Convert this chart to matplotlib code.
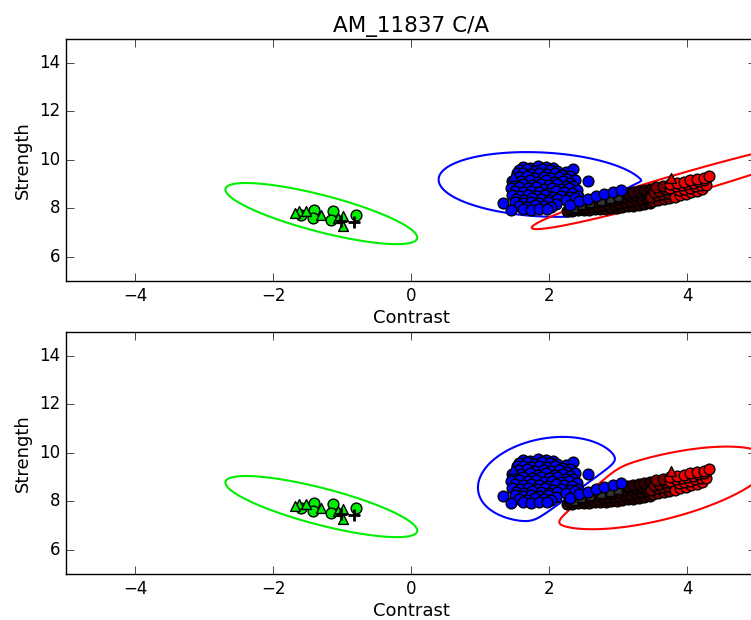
import numpy as np
import matplotlib
matplotlib.use('Agg')
import matplotlib.pyplot as plt

plt.style.use('classic')
plt.rcParams['font.family'] = ['DejaVu Sans']

title = 'AM_11837 C/A'
x_ticks = [-4, -2, 0, 2, 4]
y_ticks = [6, 8, 10, 12, 14]

# green class (circles, triangles, black crosses)
green_circle_x = [-1.40, -1.42, -1.13, -1.16, -0.80, -1.59]
green_circle_y = [7.94, 7.60, 7.87, 7.53, 7.74, 7.71]
green_tri_x = [-1.62, -1.52, -1.30, -1.06, -0.99, -0.99, -1.68]
green_tri_y = [7.87, 7.90, 7.74, 7.61, 7.67, 7.26, 7.80]
cross_x = [-1.01, -0.82]
cross_y = [7.46, 7.42]

# blue class
blue_x = [1.63, 1.73, 1.84, 1.95, 2.06,
          1.57, 1.68, 1.79, 1.90, 2.01, 2.12, 2.24, 2.35,
          1.53, 1.62, 1.74, 1.86, 1.97, 2.08, 2.19, 2.30,
          1.56, 1.68, 1.80, 1.92, 2.03, 2.15, 2.26, 2.37,
          1.46, 1.60, 1.72, 1.84, 1.96, 2.08, 2.20, 2.31, 2.57,
          1.50, 1.63, 1.75, 1.88, 2.00, 2.12, 2.24, 2.35,
          1.45, 1.57, 1.69, 1.81, 1.93, 2.05, 2.17, 2.29, 2.40,
          1.50, 1.62, 1.74, 1.86, 1.98, 2.10, 2.22, 2.34,
          1.46, 1.58, 1.70, 1.82, 1.94, 2.06, 2.18, 2.30, 2.42,
          1.52, 1.64, 1.76, 1.88, 2.00, 2.12, 2.24, 2.38,
          1.34, 1.50, 1.62, 1.74, 1.86, 1.98, 2.10,
          1.56, 1.68, 1.80, 1.92, 2.03,
          1.45, 1.62, 1.74, 1.86, 1.97,
          2.30, 2.44, 2.56, 2.68, 2.80, 2.93, 3.05]
blue_y = [9.72, 9.68, 9.74, 9.70, 9.66,
          9.58, 9.62, 9.55, 9.60, 9.57, 9.52, 9.48, 9.62,
          9.44, 9.47, 9.42, 9.46, 9.40, 9.44, 9.38, 9.35,
          9.28, 9.32, 9.26, 9.30, 9.24, 9.28, 9.22, 9.18,
          9.14, 9.12, 9.17, 9.10, 9.15, 9.08, 9.12, 9.05, 9.14,
          8.98, 9.02, 8.96, 9.00, 8.94, 8.98, 8.92, 8.90,
          8.84, 8.88, 8.82, 8.86, 8.80, 8.84, 8.78, 8.82, 8.76,
          8.70, 8.66, 8.72, 8.68, 8.64, 8.70, 8.66, 8.62,
          8.56, 8.52, 8.55, 8.50, 8.54, 8.48, 8.52, 8.46, 8.50,
          8.40, 8.36, 8.42, 8.38, 8.34, 8.40, 8.36, 8.42,
          8.22, 8.26, 8.22, 8.25, 8.20, 8.24, 8.18,
          8.10, 8.06, 8.12, 8.08, 8.05,
          7.94, 7.96, 7.92, 7.98, 7.95,
          8.15, 8.28, 8.38, 8.50, 8.60, 8.68, 8.75]
blue_tri_x = [1.48]
blue_tri_y = [9.34]

# dark (left) part of the red band
dark_x = [2.26, 2.34, 2.42, 2.50, 2.58, 2.66, 2.74, 2.82, 2.90, 2.98, 3.06, 3.14, 3.22, 3.30, 3.38, 3.46,
          2.30, 2.38, 2.46, 2.54, 2.62, 2.70, 2.78, 2.86, 2.94, 3.02, 3.10, 3.18, 3.26, 3.34, 3.42,
          2.45, 2.53, 2.61, 2.69, 2.77, 2.85, 2.93, 3.01, 3.09, 3.17, 3.25, 3.33, 3.41,
          2.90, 2.98, 3.06, 3.14, 3.22, 3.30, 3.38, 3.46]
dark_y = [7.88, 7.90, 7.91, 7.93, 7.94, 7.95, 7.96, 7.98, 8.00, 8.02, 8.05, 8.08, 8.11, 8.15, 8.19, 8.23,
          7.98, 8.00, 8.02, 8.05, 8.07, 8.10, 8.13, 8.16, 8.19, 8.23, 8.27, 8.31, 8.35, 8.39, 8.43,
          8.12, 8.16, 8.20, 8.24, 8.28, 8.32, 8.36, 8.40, 8.45, 8.50, 8.54, 8.58, 8.62,
          8.50, 8.54, 8.58, 8.63, 8.67, 8.71, 8.76, 8.80]
dark_sq_x = [2.36, 2.47, 2.60, 2.75, 2.88, 3.00]
dark_sq_y = [8.03, 8.12, 8.20, 8.30, 8.40, 8.48]

# middle part of the band, dark red
mid_x = [3.50, 3.58, 3.66, 3.74, 3.48, 3.56, 3.64, 3.72, 3.80, 3.52, 3.60, 3.68, 3.55, 3.65]
mid_y = [8.28, 8.32, 8.37, 8.42, 8.48, 8.53, 8.58, 8.63, 8.68, 8.68, 8.73, 8.79, 8.88, 8.93]

# red class (right part of the band)
red_x = [3.82, 3.90, 3.98, 4.06, 4.14, 4.22,
         3.88, 3.96, 4.04, 4.12, 4.20, 4.28,
         3.76, 3.84, 3.92, 4.00, 4.08, 4.16, 4.24,
         3.75, 3.85, 3.95, 4.05, 4.15, 4.25, 4.32]
red_y = [8.47, 8.53, 8.59, 8.65, 8.72, 8.80,
         8.74, 8.79, 8.84, 8.90, 8.95, 8.97,
         8.84, 8.90, 8.95, 9.01, 9.06, 9.11, 9.17,
         8.99, 9.05, 9.10, 9.15, 9.20, 9.25, 9.34]
red_tri_x = [3.77]
red_tri_y = [9.23]

# contour shapes: centre, two conjugate semi-axes, optional cut line (x0, y0, slope, side)
green_shape = ([-1.30, 7.78], [1.39, -0.99], [0.0, 0.78], None)
top_blue_shape = ([1.90, 8.98], [1.50, -0.20], [0.0, 1.32], (2.45, 7.85, 1.43, 1.0))
top_red_shape = ([3.95, 9.00], [2.20, 1.80], [0.0, 0.47], None)
bot_blue_shape = ([2.00, 8.90], [1.03, 0.34], [0.0, 1.72], (2.42, 8.46, 2.06, 1.0))
bot_red_shape = ([3.60, 8.55], [1.60, 1.04], [0.0, 1.35], (2.05, 7.05, 2.50, -1.0))

gx, gy = np.meshgrid(np.linspace(-5, 7, 1200), np.linspace(4.5, 12.5, 800))


def shape_field(shape, sharp):
    centre, a, b, cut = shape
    inv = np.linalg.inv(np.array([[a[0], b[0]], [a[1], b[1]]]))
    dx = gx - centre[0]
    dy = gy - centre[1]
    u = inv[0, 0] * dx + inv[0, 1] * dy
    v = inv[1, 0] * dx + inv[1, 1] * dy
    f = u ** 2 + v ** 2 - 1
    if cut is not None:
        x0, y0, slope, side = cut
        lin = side * ((y0 + slope * (gx - x0)) - gy)
        f = np.logaddexp(sharp * f, sharp * lin) / sharp
    return f


def draw_points(ax):
    ax.scatter(green_circle_x, green_circle_y, s=60, c='#00ee00', marker='o', edgecolors='k', zorder=3)
    ax.scatter(green_tri_x, green_tri_y, s=50, c='#00ee00', marker='^', edgecolors='k', zorder=3)
    ax.scatter(cross_x, cross_y, s=70, c='k', marker='+', linewidths=2, zorder=3)
    ax.scatter(dark_x, dark_y, s=60, c='#2a0000', marker='o', edgecolors='k', zorder=3)
    ax.scatter(mid_x, mid_y, s=60, c='#7a0000', marker='o', edgecolors='k', zorder=3)
    ax.scatter(red_x, red_y, s=60, c='#f00000', marker='o', edgecolors='k', zorder=3)
    ax.scatter(red_tri_x, red_tri_y, s=50, c='#f00000', marker='^', edgecolors='k', zorder=3)
    ax.scatter(dark_sq_x, dark_sq_y, s=35, c='#333333', marker='s', edgecolors='k', zorder=3)
    ax.scatter(blue_x, blue_y, s=60, c='#0000ff', marker='o', edgecolors='k', zorder=3)
    ax.scatter(blue_tri_x, blue_tri_y, s=50, c='#0000ff', marker='^', edgecolors='k', zorder=3)


def style_axes(ax):
    ax.set_xlim(-5, 5)
    ax.set_ylim(5, 15)
    ax.set_xticks(x_ticks)
    ax.set_yticks(y_ticks)
    ax.set_xticklabels(['\u2212' + str(-t) if t < 0 else str(t) for t in x_ticks])
    ax.tick_params(direction='in', length=6, labelsize=12, top=True, right=True)
    ax.set_xlabel('Contrast', fontsize=13, labelpad=3)
    ax.set_ylabel('Strength', fontsize=13)


fig = plt.figure(figsize=(7.51, 6.2), dpi=100, facecolor='white')
ax1 = fig.add_axes([0.0879, 0.5468, 0.9188, 0.3911])
ax2 = fig.add_axes([0.0879, 0.0742, 0.9188, 0.3911])

for ax, shapes in [(ax1, [(green_shape, '#00ee00', 40), (top_blue_shape, '#0000ff', 40), (top_red_shape, '#ff0000', 40)]),
                   (ax2, [(green_shape, '#00ee00', 40), (bot_blue_shape, '#0000ff', 7), (bot_red_shape, '#ff0000', 7)])]:
    for shape, col, sharp in shapes:
        ax.contour(gx, gy, shape_field(shape, sharp), levels=[0], colors=col, linewidths=1.5)
    draw_points(ax)
    style_axes(ax)

ax1.set_title(title, fontsize=15.5)

fig.savefig('out.png', dpi=100, facecolor='white')
